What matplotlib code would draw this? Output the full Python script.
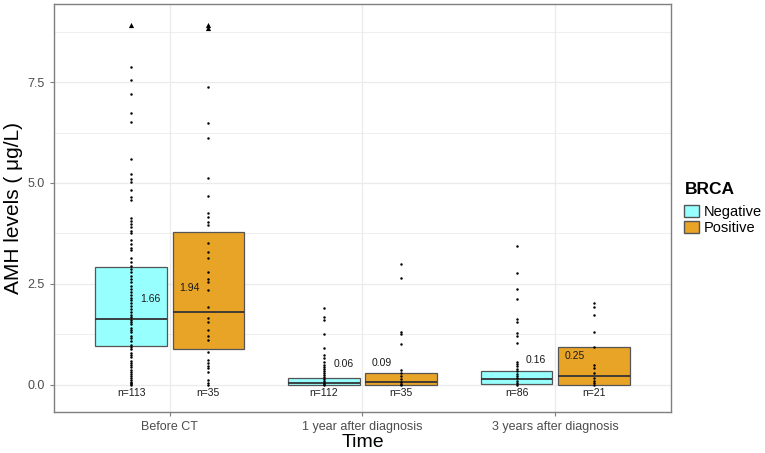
import numpy as np
import matplotlib.pyplot as plt
from matplotlib.patches import Patch

plt.rcParams['font.family'] = ['Liberation Sans', 'DejaVu Sans']

# Данные
categories = ['Before CT', '1 year after diagnosis', '3 years after diagnosis']
groups = ['Negative', 'Positive']
colors = {'Negative': '#98FFFF', 'Positive': '#E8A427'}

q1 = {'Negative': [0.97, 0.0, 0.03], 'Positive': [0.89, 0.01, 0.0]}
med = {'Negative': [1.63, 0.05, 0.15], 'Positive': [1.81, 0.08, 0.22]}
q3 = {'Negative': [2.92, 0.17, 0.35], 'Positive': [3.79, 0.29, 0.94]}

value_labels = {'Negative': ['1.66', '0.06', '0.16'], 'Positive': ['1.94', '0.09', '0.25']}
value_label_y = {'Negative': [1.66, 0.06, 0.16], 'Positive': [1.94, 0.09, 0.25]}
n_labels = {'Negative': ['n=113', 'n=112', 'n=86'], 'Positive': ['n=35', 'n=35', 'n=21']}

# Точки (столбцы точек внутри коробок)
pts_before_neg = [7.88, 7.55, 7.20, 6.73, 6.50, 5.59, 5.22, 5.09, 5.03, 4.83, 4.65, 4.58,
                  4.13, 4.05, 3.98, 3.90, 3.82, 3.75, 3.60, 3.50, 3.40, 3.35,
                  3.14, 3.05, 2.95, 2.88, 2.80, 2.70, 2.62, 2.55, 2.45, 2.38, 2.30, 2.22,
                  2.15, 2.10, 2.02, 1.95, 1.88, 1.80, 1.74, 1.68, 1.62, 1.55, 1.50, 1.42,
                  1.35, 1.30, 1.22, 1.15, 1.08, 1.00, 0.95, 0.88, 0.80, 0.75, 0.68, 0.60,
                  0.55, 0.50, 0.44, 0.38, 0.32, 0.27, 0.22, 0.17, 0.12, 0.08, 0.04, 0.02, 0.0]
pts_before_pos = [7.38, 6.49, 6.11, 5.12, 4.69, 4.25, 4.17, 4.04, 3.96, 3.51, 3.30, 3.14,
                  2.80, 2.62, 2.56, 2.35, 1.94, 1.65, 1.57, 1.36, 1.20, 1.11, 0.82, 0.62,
                  0.54, 0.47, 0.41, 0.33, 0.12, 0.04, 0.0]
pts_1y_neg = [1.90, 1.69, 1.61, 1.26, 0.91, 0.74, 0.66, 0.58, 0.50, 0.45, 0.40, 0.35,
              0.30, 0.25, 0.20, 0.15, 0.10, 0.06, 0.03, 0.0]
pts_1y_pos = [2.99, 2.64, 1.32, 1.26, 1.01, 0.37, 0.30, 0.22, 0.15, 0.08, 0.03, 0.0]
pts_3y_neg = [3.44, 2.76, 2.37, 2.12, 1.63, 1.57, 1.28, 1.21, 1.05, 0.58, 0.52, 0.46,
              0.40, 0.34, 0.28, 0.22, 0.16, 0.10, 0.05, 0.0]
pts_3y_pos = [2.02, 1.92, 1.73, 1.32, 0.95, 0.50, 0.41, 0.29, 0.17, 0.10, 0.04, 0.0]
points = {'Negative': [pts_before_neg, pts_1y_neg, pts_3y_neg],
          'Positive': [pts_before_pos, pts_1y_pos, pts_3y_pos]}

# Цензурированные значения сверху (треугольники)
top_neg = [8.91, 0, 0]
top_pos = [8.91, 0, 0]
top_pos2 = [8.84, 0, 0]

fig = plt.figure(figsize=(7.65, 4.53), dpi=100)
ax = fig.add_axes([0.0706, 0.0905, 0.8065, 0.9005])

x = np.arange(1, len(categories) + 1)
offset = {'Negative': -0.2, 'Positive': 0.2}
width = 0.37

# Сетка
for yv in [0, 1.25, 2.5, 3.75, 5.0, 6.25, 7.5, 8.75]:
    ax.axhline(yv, color='#ebebeb', lw=0.9 if yv % 2.5 == 0 else 0.6, zorder=0)
for xv in x:
    ax.axvline(xv, color='#ebebeb', lw=0.9, zorder=0)

for g in groups:
    stats = []
    for i in range(len(categories)):
        stats.append({'q1': q1[g][i], 'med': med[g][i], 'q3': q3[g][i],
                      'whislo': q1[g][i], 'whishi': q3[g][i], 'fliers': []})
    pos = x + offset[g]
    ax.bxp(stats, positions=pos, widths=width, patch_artist=True, showcaps=False,
           boxprops=dict(facecolor=colors[g], edgecolor='#555555', linewidth=0.9),
           medianprops=dict(color='#333333', linewidth=1.3),
           whiskerprops=dict(linewidth=0), manage_ticks=False, zorder=2)
    for i in range(len(categories)):
        ax.scatter(np.full(len(points[g][i]), pos[i]), points[g][i], s=3.2, color='black',
                   zorder=3, linewidths=0)
        lx = pos[i] + (0.1 if g == 'Negative' else -0.1)
        ax.text(lx, value_label_y[g][i] + 0.46, value_labels[g][i], fontsize=7.5,
                ha='center', va='center', color='#1a1a1a', zorder=4)
        ax.text(pos[i], -0.2, n_labels[g][i], fontsize=7.5, ha='center', va='center',
                color='#1a1a1a', zorder=4)

tops_x = [x[0] + offset['Negative'], x[0] + offset['Positive'], x[0] + offset['Positive']]
tops_y = [top_neg[0], top_pos[0], top_pos2[0]]
ax.scatter(tops_x, tops_y, marker='^', s=14, color='black', zorder=3, linewidths=0)

ax.set_xlim(0.4, 3.6)
ax.set_ylim(-0.67, 9.43)
ax.set_xticks(x)
ax.set_xticklabels(categories, fontsize=9, color='#4d4d4d')
ax.set_yticks([0, 2.5, 5.0, 7.5])
ax.set_yticklabels(['0.0', '2.5', '5.0', '7.5'], fontsize=9, color='#4d4d4d')
ax.tick_params(length=3, color='#7f7f7f', width=0.8)
for s in ax.spines.values():
    s.set_color('#7f7f7f')
    s.set_linewidth(1.0)
ax.set_xlabel('Time', fontsize=14, labelpad=1)
ax.set_ylabel('AMH levels ( μg/L)', fontsize=15, labelpad=3)

handles = [Patch(facecolor=colors[g], edgecolor='#555555', label=g) for g in groups]
leg = fig.legend(handles=handles, title='BRCA', loc='center left',
                 bbox_to_anchor=(0.887, 0.54), frameon=False, fontsize=10.5,
                 title_fontsize=12.5, handlelength=1.0, handleheight=0.9,
                 handletextpad=0.3, labelspacing=0.15, borderaxespad=0)
leg.get_title().set_fontweight('bold')
leg._legend_box.align = 'left'
leg._legend_box.sep = 6

fig.savefig('out.png', dpi=100)
